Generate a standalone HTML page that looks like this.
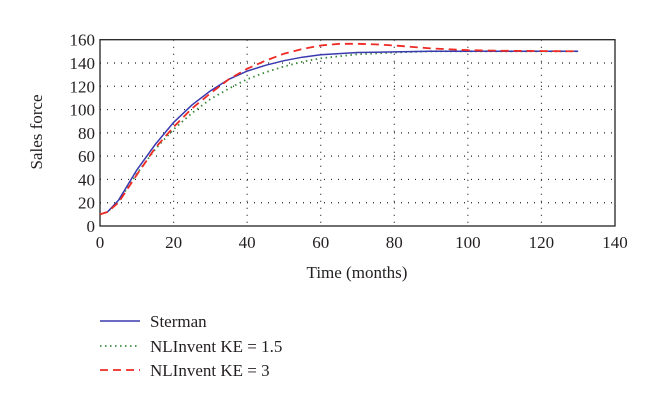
<!DOCTYPE html>
<html><head><meta charset="utf-8"><style>
body{margin:0;background:#fff}
text{font-family:"Liberation Serif",serif;fill:#231f20}
</style></head><body>
<svg id="chart" width="660" height="409">
<g id="grid"></g>
<g id="axes"></g>
<g id="series"></g>
<text x="42" y="132" font-size="17" text-anchor="middle" transform="rotate(-90 42 132)">Sales force</text>
<text x="357" y="278" font-size="17" text-anchor="middle">Time (months)</text>
<g>
<g><line x1="100" y1="321" x2="140" y2="321" stroke="#3a3ab0" stroke-width="1.5"/><text x="150" y="327" font-size="17">Sterman</text></g>
<g><line x1="100" y1="346" x2="140" y2="346" stroke="#3a8a3a" stroke-width="1.8" stroke-dasharray="1.5 3.5"/><text x="150" y="352" font-size="17">NLInvent KE = 1.5</text></g>
<g><line x1="100" y1="370" x2="140" y2="370" stroke="#ee2a24" stroke-width="1.8" stroke-dasharray="8 5"/><text x="150" y="376" font-size="17">NLInvent KE = 3</text></g>
</g>
</svg>
<script>
const xTicks=[0,20,40,60,80,100,120,140];
const yTicks=[0,20,40,60,80,100,120,140,160];
const tSterman=[0,2,5,10,15,20,25,30,35,40,45,50,55,60,70,80,90,130];
const vSterman=[10,12,22,48,70,89,104,116,126,133,138,142,145,147,149,149.5,150,150];
const tKE15=[0,2,5,10,15,20,25,30,35,40,45,50,55,60,70,80,90,130];
const vKE15=[10,12,21,45,66,83,97,109,118,126,132,137,141,144,147.5,149,150,150];
const tKE3=[0,2,5,10,15,20,25,30,35,40,45,50,55,60,65,70,75,80,90,100,110,130];
const vKE3=[10,12,20,44,67,85,101,114,126,135,142,148,152,155,156.5,156.5,156,155,152.5,151,150.5,150];
const L=100,R=615,T=39.7,B=226;
const xs=v=>L+(v-0)/(140-0)*(R-L);
const ys=v=>B-(v-0)/(160-0)*(B-T);
const NS="http://www.w3.org/2000/svg";
function mk(tag,attrs,parent){const e=document.createElementNS(NS,tag);for(const k in attrs)e.setAttribute(k,attrs[k]);parent.appendChild(e);return e;}
const grid=document.getElementById('grid'),axes=document.getElementById('axes'),series=document.getElementById('series');
xTicks.forEach(v=>{
 if(v>0&&v<140){const g=mk('line',{x1:xs(v),x2:xs(v),y1:T,y2:B,stroke:'#222','stroke-width':1.2,'stroke-dasharray':'1 6'},grid);
 
 }
 const t=mk('text',{x:xs(v),y:B+22,'font-size':17,'text-anchor':'middle'},axes);t.textContent=v;
 
 
});
yTicks.forEach(v=>{
 if(v>0&&v<160){const g=mk('line',{x1:L,x2:R,y1:ys(v),y2:ys(v),stroke:'#222','stroke-width':1.2,'stroke-dasharray':'1 6'},grid);
 
 }
 const t=mk('text',{x:L-5,y:ys(v)+6,'font-size':17,'text-anchor':'end'},axes);t.textContent=v;
 
 
});
const frame=mk('rect',{x:L,y:T,width:R-L,height:B-T,fill:'none',stroke:'#222','stroke-width':1.3},axes);


function path(ts,vs){return ts.map((t,i)=>(i?'L':'M')+xs(t).toFixed(1)+','+ys(vs[i]).toFixed(1)).join(' ');}
const p1=mk('path',{d:path(tKE15,vKE15),fill:'none',stroke:'#3a8a3a','stroke-width':1.8,'stroke-dasharray':'1.5 3.5'},series);


const p2=mk('path',{d:path(tSterman,vSterman),fill:'none',stroke:'#3a3ab0','stroke-width':1.5},series);


const p3=mk('path',{d:path(tKE3,vKE3),fill:'none',stroke:'#ee2a24','stroke-width':1.8,'stroke-dasharray':'8 5'},series);


</script>
</body></html>
